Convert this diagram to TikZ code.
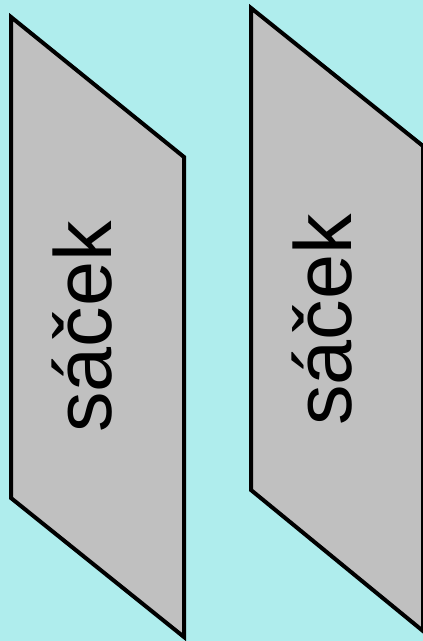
\documentclass[tikz,border=0pt]{standalone}
\usepackage{fontspec}
\setmainfont{Liberation Sans}
\definecolor{bgcyan}{RGB}{175,237,237}
\definecolor{bagfill}{RGB}{192,192,192}
\tikzset{
  bag/.style={draw=black, fill=bagfill, line width=4pt, line join=miter},
  baglabel/.style={rotate=90, anchor=base, inner sep=0pt, font=\fontsize{81}{81}\selectfont}
}
\begin{document}
\begin{tikzpicture}[x=1pt,y=-1pt]
  \fill[bgcyan] (0,0) rectangle (423,641);
  \useasboundingbox (0,0) rectangle (423,641);
  % left bag
  \draw[bag] (11,17) -- (184,157) -- (184,637) -- (11,498) -- cycle;
  \node[baglabel] (left) at (111,327) {sáček};
  % right bag
  \draw[bag] (251,8) -- (423,146) -- (423,631) -- (251,490) -- cycle;
  \node[baglabel] (right) at (351,320) {sáček};
\end{tikzpicture}
\end{document}
